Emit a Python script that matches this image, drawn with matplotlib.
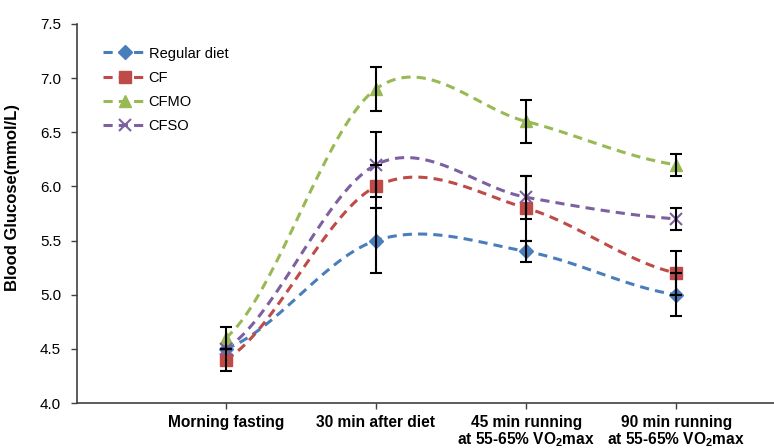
import matplotlib
matplotlib.use("Agg")
import matplotlib.pyplot as plt
import numpy as np

plt.rcParams['font.family'] = ['Liberation Sans', 'DejaVu Sans']
plt.rcParams['mathtext.fontset'] = 'custom'
plt.rcParams['mathtext.rm'] = 'Liberation Sans:bold'
plt.rcParams['mathtext.bf'] = 'Liberation Sans:bold'
plt.rcParams['mathtext.it'] = 'Liberation Sans:bold'

stages = ["Morning fasting", "30 min after diet",
          "45 min running\nat 55-65% VO$_{2}$max",
          "90 min running\nat 55-65% VO$_{2}$max"]

regular = [4.5, 5.5, 5.4, 5.0]
regular_err = [0.0, 0.3, 0.1, 0.2]
cf = [4.4, 6.0, 5.8, 5.2]
cf_err = [0.1, 0.2, 0.3, 0.2]
cfmo = [4.6, 6.9, 6.6, 6.2]
cfmo_err = [0.1, 0.2, 0.2, 0.1]
cfso = [4.5, 6.2, 5.9, 5.7]
cfso_err = [0.0, 0.3, 0.2, 0.1]

series = [
    ("Regular diet", regular, regular_err, "#4A7EBB", "D", 7),
    ("CF", cf, cf_err, "#BE4B48", "s", 9),
    ("CFMO", cfmo, cfmo_err, "#98B954", "^", 9),
    ("CFSO", cfso, cfso_err, "#7D60A0", "x", 9),
]


def smooth(y, n=40):
    # Catmull-Rom style smoothing through the points
    y = np.asarray(y, float)
    x = np.arange(len(y))
    m = np.zeros(len(y))
    m[1:-1] = (y[2:] - y[:-2]) / 2
    m[0] = (y[1] - y[0]) / 2
    m[-1] = (y[-1] - y[-2]) / 2
    xs, ys = [], []
    for i in range(len(y) - 1):
        t = np.linspace(0, 1, n)
        h00 = 2*t**3 - 3*t**2 + 1
        h10 = t**3 - 2*t**2 + t
        h01 = -2*t**3 + 3*t**2
        h11 = t**3 - t**2
        xs.append(x[i] + t)
        ys.append(h00*y[i] + h10*m[i] + h01*y[i+1] + h11*m[i+1])
    return np.concatenate(xs), np.concatenate(ys)


fig = plt.figure(figsize=(7.74, 4.48), dpi=100)
ax = fig.add_axes([77/774, 45/448, 697/774, 379/448])

x = np.arange(len(stages))
for name, vals, err, col, mk, ms in series:
    sx, sy = smooth(vals)
    ax.plot(sx, sy, color=col, lw=2.2, ls=(0, (3, 2)), zorder=2)
    ax.plot(x, vals, ls='none', marker=mk, ms=ms, color=col,
            mew=1.5 if mk == 'x' else 1, zorder=3)
    # legend handle
    ax.plot([], [], color=col, lw=2.2, ls=(0, (3, 2)), marker=mk, ms=ms,
            mew=1.5 if mk == 'x' else 1, label=name)
    ax.errorbar(x, vals, yerr=err, fmt='none', ecolor='black',
                elinewidth=1.5, capsize=4, capthick=1.5, zorder=4)

ax.set_xlim(-0.99, 3.65)
ax.set_ylim(4.0, 7.5)
ax.set_yticks(np.arange(4.0, 7.51, 0.5))
ax.set_yticklabels(["%.1f" % v for v in np.arange(4.0, 7.51, 0.5)], fontsize=11)
ax.set_xticks(x)
ax.set_xticklabels(stages, fontsize=11.2, fontweight='bold', linespacing=1.0)
ax.tick_params(axis='x', length=4.5, width=1, pad=4)
ax.tick_params(axis='y', length=4.5, width=1, pad=7)
for s in ('left', 'bottom'):
    ax.spines[s].set_color('#404040')
    ax.spines[s].set_linewidth(1.2)
ax.tick_params(colors='#404040', labelcolor='black')
ax.spines['top'].set_visible(False)
ax.spines['right'].set_visible(False)
ax.set_ylabel("Blood Glucose(mmol/L)", fontsize=12, fontweight='bold')
ax.yaxis.set_label_coords(-0.082, 0.543)

ax.legend(loc='upper left', bbox_to_anchor=(0.018, 0.975), frameon=False,
          fontsize=10.5, handlelength=3.0, handletextpad=0.15, labelspacing=0.7)

fig.savefig("out.png", dpi=100)
